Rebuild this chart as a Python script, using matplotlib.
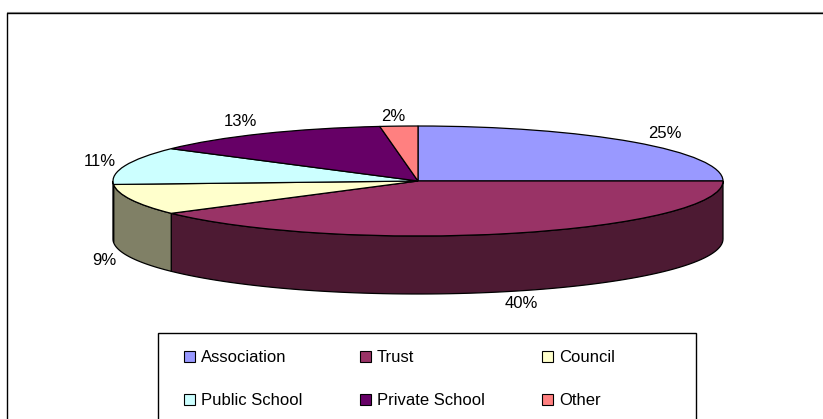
import matplotlib
matplotlib.use("Agg")
import matplotlib.pyplot as plt
import numpy as np
from matplotlib.lines import Line2D
from matplotlib.patches import Patch, Rectangle
from matplotlib.transforms import Affine2D

categories = ["Association", "Trust", "Council", "Public School", "Private School", "Other"]
shares = [25, 40, 9, 11, 13, 2]
colors = ["#9999FF", "#993366", "#FFFFCC", "#CCFFFF", "#660066", "#FF8080"]
wall_colors = ["#4C4C80", "#4D1A33", "#808066", "#668080", "#330033", "#804040"]

W, H = 823, 419
CX, CY = 418, 181
RX, RY = 305, 55
DEPTH = 58 / RY

plt.rcParams["font.family"] = ["Liberation Sans", "DejaVu Sans"]

fig = plt.figure(figsize=(W / 100, H / 100), dpi=100, facecolor="white")
ax = fig.add_axes([0, 0, 1, 1])
px = Affine2D().scale(1 / W, -1 / H).translate(0, 1) + fig.transFigure

# outer frame runs off the right and bottom edges
fig.add_artist(Line2D([7, W + 5], [12.5, 12.5], transform=px, color="#999999", lw=0.8))
fig.add_artist(Line2D([7.5, 7.5, W + 5], [H + 5, 13.5, 13.5], transform=px, color="black", lw=1.0))

# side wall of the disc, only the front half is visible
edges = np.cumsum([0] + shares) / sum(shares) * 360
for start, stop, wall in zip(edges[:-1], edges[1:], wall_colors):
    lo, hi = max(start, 90), min(stop, 270)
    if lo >= hi:
        continue
    t = np.radians(np.linspace(lo, hi, 80))
    xs = np.concatenate([np.sin(t), np.sin(t[::-1])])
    ys = np.concatenate([np.cos(t), np.cos(t[::-1]) - DEPTH])
    ax.fill(xs, ys, facecolor=wall, edgecolor="black", lw=0.9, zorder=1)

ax.pie(
    shares,
    colors=colors,
    startangle=90,
    counterclock=False,
    radius=1,
    wedgeprops={"edgecolor": "black", "linewidth": 0.9, "zorder": 2},
)
ax.set_aspect("auto")
ax.set_xlim(-CX / RX, (W - CX) / RX)
ax.set_ylim(-(H - CY) / RY, CY / RY)
ax.axis("off")

# percent labels sit outside the disc
label_xy = [(665, 133), (521, 303), (104, 260), (100, 161), (240, 121), (393, 116)]
for share, (lx, ly) in zip(shares, label_xy):
    fig.text(lx, ly, f"{share}%", transform=px, ha="center", va="center", fontsize=12)

# legend box is wider than its entries and is cut off by the bottom edge
fig.add_artist(
    Rectangle((158, 333), 538, 100, transform=px, facecolor="white", edgecolor="black", lw=1.0)
)

# legend fills column by column, so reorder to read left to right
order = [0, 3, 1, 4, 2, 5]
handles = [
    Patch(facecolor=colors[i], edgecolor="black", lw=0.8, label=categories[i]) for i in order
]
fig.legend(
    handles=handles,
    ncols=3,
    loc="upper left",
    bbox_to_anchor=(184, 350),
    bbox_transform=px,
    fontsize=12,
    frameon=False,
    handlelength=0.65,
    handleheight=0.65,
    handletextpad=0.36,
    labelspacing=1.7,
    borderpad=0,
    borderaxespad=0,
    columnspacing=3.45,
)

fig.savefig("out.png", dpi=100)
